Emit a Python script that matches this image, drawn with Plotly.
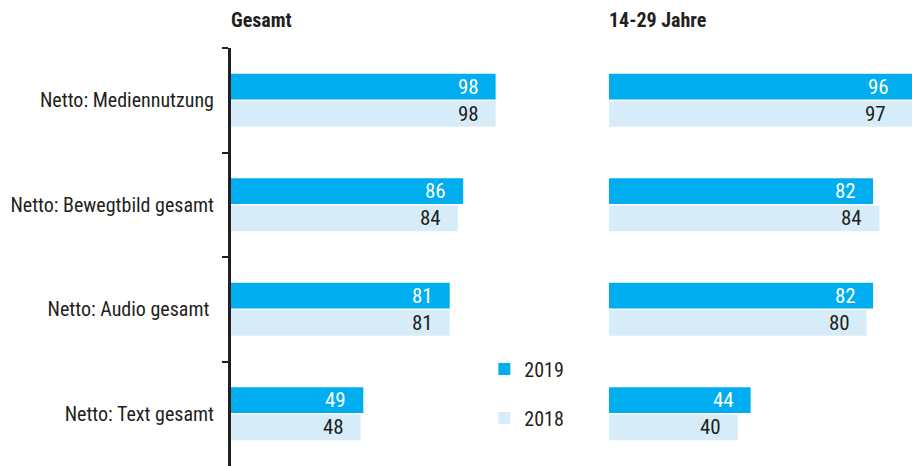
import plotly.graph_objects as go

# Data
categories = ["Netto: Mediennutzung", "Netto: Bewegtbild gesamt", "Netto: Audio gesamt ", "Netto: Text gesamt"]
gesamt_2019 = [98, 86, 81, 49]
gesamt_2018 = [98, 84, 81, 48]
jung_2019 = [96, 82, 82, 44]
jung_2018 = [97, 84, 80, 40]
years = ["2019", "2018"]

COLORS = {
    '2019': '#00aeef',
    '2018': '#d6ecf9',
    'text': '#231f20',
}
FONT = "Liberation Sans Narrow, Arial Narrow, Roboto Condensed, DejaVu Sans Condensed, sans-serif"

WIDTH, HEIGHT = 912, 466
MARGIN_L, MARGIN_T = 231, 48
PLOT_W = WIDTH - MARGIN_L
BARGAP = 0.48

# x axis setup per panel: (domain, range max)
X1 = ([0, 0.3965], 100)
X2 = ([0.555, 1], 94.1)

fig = go.Figure()

panels = [
    ('x', 'y', X1, gesamt_2019, gesamt_2018, True),
    ('x2', 'y2', X2, jung_2019, jung_2018, False),
]
for xa, ya, _, v19, v18, show in panels:
    for year, vals in zip(years, [v19, v18]):
        fig.add_trace(go.Bar(
            y=categories, x=vals, orientation='h', name=year,
            marker=dict(color=COLORS[year], line=dict(width=0)),
            xaxis=xa, yaxis=ya, showlegend=show, legendgroup=year,
            hoverinfo='x+y',
        ))

# value labels, right-aligned near bar ends (bars running past the edge are clipped,
# so the label is pinned to the axis end and shifted by the overflow)
slot = (1 - BARGAP) / 4
annotations = []
for xa, ya, (dom, xmax), v19, v18, _ in panels:
    px_per_unit = (dom[1] - dom[0]) * PLOT_W / xmax
    for year, vals in zip(years, [v19, v18]):
        offset = -slot if year == "2019" else slot
        for i, v in enumerate(vals):
            xpos = min(v, xmax)
            annotations.append(dict(
                x=xpos, y=i + offset, xref=xa, yref=ya,
                text=str(v), showarrow=False, xanchor='right', yanchor='middle',
                xshift=-15 - (v - xpos) * px_per_unit,
                font=dict(family=FONT, size=21,
                          color='#ffffff' if year == "2019" else COLORS['text']),
            ))

# panel titles
for ref, title in [('x domain', "Gesamt"), ('x2 domain', "14-29 Jahre")]:
    annotations.append(dict(x=0, y=1 + 28 / 418, xref=ref, yref='paper', yanchor='middle',
                            xanchor='left', xshift=-2, text=f"<b>{title}</b>", showarrow=False,
                            font=dict(family=FONT, size=20, color=COLORS['text'])))

fig.update_layout(
    width=WIDTH, height=HEIGHT,
    margin=dict(l=MARGIN_L, r=0, t=MARGIN_T, b=0, autoexpand=False),
    paper_bgcolor='#ffffff', plot_bgcolor='#ffffff',
    barmode='group', bargap=BARGAP, bargroupgap=0.05,
    font=dict(family=FONT, color=COLORS['text'], size=20),
    annotations=annotations,
    legend=dict(
        x=0.372, y=0.279, xanchor='left', yanchor='top',
        font=dict(family=FONT, size=20, color=COLORS['text']),
        tracegroupgap=20, traceorder='grouped', itemwidth=30,
        bgcolor='rgba(0,0,0,0)',
    ),
    xaxis=dict(domain=X1[0], range=[0, X1[1]], visible=False),
    xaxis2=dict(domain=X2[0], range=[0, X2[1]], visible=False),
    yaxis=dict(
        autorange='reversed', showline=True, linewidth=3, linecolor=COLORS['text'],
        ticks='outside', tickson='boundaries', ticklen=6, tickwidth=2,
        tickcolor=COLORS['text'], showgrid=False, zeroline=False,
        ticklabelstandoff=10, automargin=False,
        tickfont=dict(family=FONT, size=20, color=COLORS['text']),
    ),
    yaxis2=dict(
        anchor='x2', matches='y', autorange='reversed', showticklabels=False,
        showline=False, ticks='', showgrid=False, zeroline=False, automargin=False,
    ),
)

fig.write_html("out.html", config={'displayModeBar': False},
               post_script="document.body.style.margin='0';")
